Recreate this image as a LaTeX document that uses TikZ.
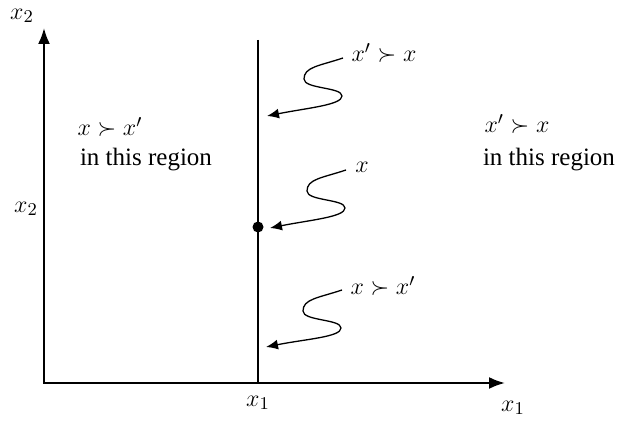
\documentclass[tikz,border=0pt]{standalone}
\usepackage{amssymb}
\usepackage{fontspec}
\setmainfont{Liberation Serif}
\usetikzlibrary{arrows.meta}
\tikzset{
    axis/.style={line width=1.1pt,{Latex[length=8pt,width=6pt]}-{Latex[length=8pt,width=6pt]}},
    squig/.style={line width=0.65pt,-{Latex[length=6pt,width=5pt]}},
    lbl/.style={inner sep=0pt,font=\fontsize{12.5}{15}\selectfont},
    dot/.style={circle,fill,inner sep=0pt,minimum size=5.5pt}
}
\begin{document}
\begin{tikzpicture}[x=0.5pt,y=-0.5pt]
        \useasboundingbox (0,0) rectangle (621,426);
        \coordinate (o) at (44,383);
        \coordinate (ytop) at (44,28);
        \coordinate (xend) at (505,383);
        \coordinate (vtop) at (258,40);
        \coordinate (vbot) at (258,383);
        \draw[axis] (ytop)--(o)--(xend);
        \draw[line width=0.6pt] (vtop)--(vbot);
        \node[dot] (pt) at (258,227) {};
        \node[lbl] (ylab) at (22,16) {$x_2$};
        \node[lbl] (yval) at (26,209) {$x_2$};
        \node[lbl] (xval) at (258,403) {$x_1$};
        \node[lbl] (xlab) at (513,408) {$x_1$};
        \node[lbl] (left1) at (110,127) {$x\succ x'$};
        \node[lbl] (left2) at (146,160) {in this region};
        \node[lbl] (right1) at (517,124) {$x'\succ x$};
        \node[lbl] (right2) at (549,160) {in this region};
        \node[lbl] (upper) at (384,53) {$x'\succ x$};
        \node[lbl] (mid) at (362,167) {$x$};
        \node[lbl] (lower) at (383,286) {$x\succ x'$};
        \coordinate (s1) at (343,58);
        \coordinate (t1) at (267,116);
        \coordinate (s2) at (346,170);
        \coordinate (t2) at (270,228);
        \coordinate (s3) at (342,290);
        \coordinate (t3) at (266,347);
        \foreach \s/\t in {s1/t1,s2/t2,s3/t3}
            \draw[squig] (\s) .. controls +(-24,8) and +(0,-12) .. ++(-39,21)
                .. controls +(0,10) and +(0,-9) .. ++(38,17)
                .. controls +(0,9) and +(40,-8) .. (\t);
    \end{tikzpicture}
\end{document}
